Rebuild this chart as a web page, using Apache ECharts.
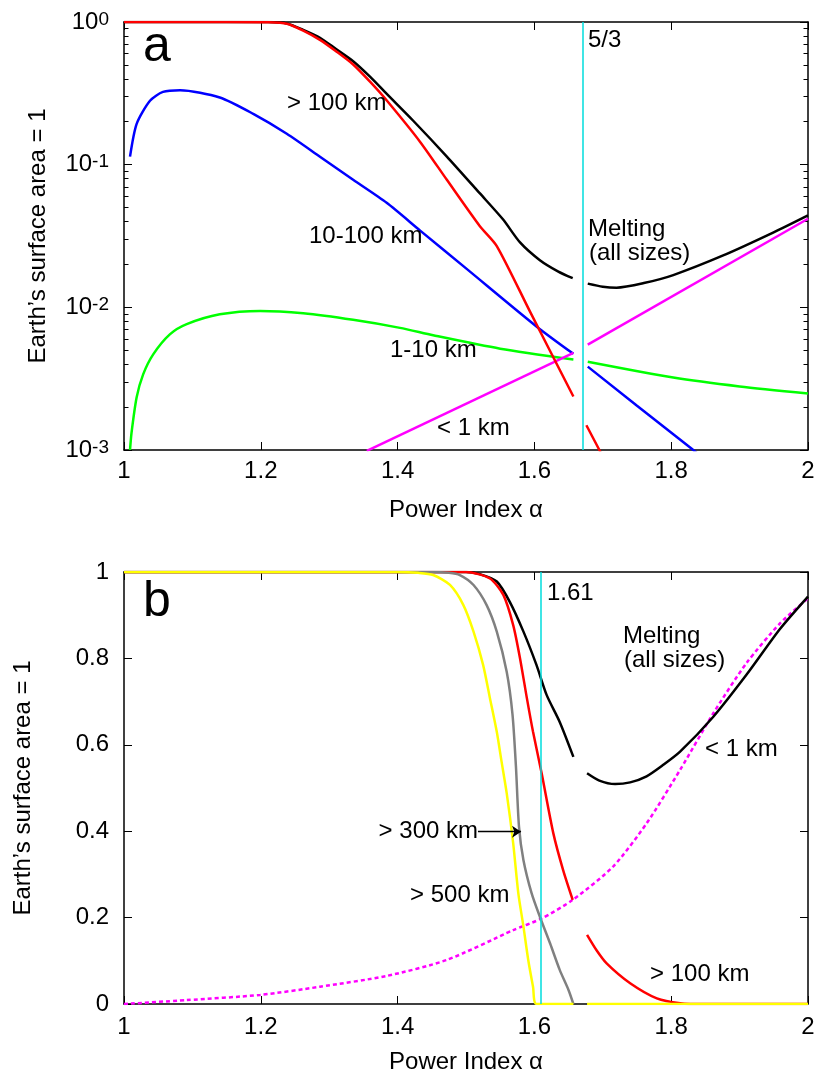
<!DOCTYPE html>
<html><head><meta charset="utf-8">
<script src="https://cdn.jsdelivr.net/npm/echarts@6/dist/echarts.min.js"></script>
<style>html,body{margin:0;padding:0;background:#fff}#c{width:818px;height:1082px}</style>
</head><body><div id="c"></div>
<script>
// ---------- Panel a (log scale) ----------
const aMeltL_x = [1.00, 1.15, 1.21, 1.238, 1.262, 1.2865, 1.31, 1.335, 1.36, 1.3845, 1.4225, 1.472, 1.52, 1.554, 1.579, 1.608, 1.635, 1.656];
const aMeltL_y = [1, 1, 0.998, 0.977, 0.881, 0.776, 0.646, 0.531, 0.412, 0.312, 0.204, 0.114, 0.0631, 0.0414, 0.0285, 0.0214, 0.0178, 0.0160];
const aMeltR_x = [1.678, 1.70, 1.72, 1.76, 1.803, 1.876, 1.949, 2.0];
const aMeltR_y = [0.01466, 0.01396, 0.01374, 0.0148, 0.01683, 0.0231, 0.0334, 0.0441];
const a100L_x = [1.00, 1.15, 1.21, 1.238, 1.262, 1.2865, 1.31, 1.335, 1.36, 1.3845, 1.4327, 1.472, 1.52, 1.545, 1.5936, 1.657];
const a100L_y = [1, 1, 0.995, 0.973, 0.871, 0.750, 0.624, 0.504, 0.380, 0.2805, 0.145, 0.0783, 0.0372, 0.0269, 0.00933, 0.00237];
const a100R_x = [1.676, 1.695, 1.705];
const a100R_y = [0.00149, 0.00100, 0.00079];
const a10L_x = [1.0088, 1.0185, 1.038, 1.057, 1.082, 1.14, 1.189, 1.238, 1.2865, 1.335, 1.384, 1.433, 1.501, 1.603, 1.657];
const a10L_y = [0.1138, 0.1932, 0.2805, 0.3236, 0.3327, 0.2958, 0.227, 0.1648, 0.1138, 0.0783, 0.0540, 0.0345, 0.0186, 0.00735, 0.00472];
const a10R_x = [1.678, 1.75, 1.83, 1.84];
const a10R_y = [0.00384, 0.00204, 0.00102, 0.00093];
const a1L_x = [1.0088, 1.011, 1.0185, 1.028, 1.0427, 1.067, 1.0917, 1.14, 1.199, 1.262, 1.335, 1.4035, 1.452, 1.55, 1.657];
const a1L_y = [0.00100, 0.00132, 0.00234, 0.00339, 0.00468, 0.00646, 0.00762, 0.00893, 0.00944, 0.00908, 0.00817, 0.00718, 0.00637, 0.00513, 0.00431];
const a1R_x = [1.678, 1.803, 1.90, 2.0];
const a1R_y = [0.00416, 0.00322, 0.00279, 0.00249];
const aSmallL_x = [1.355, 1.657];
const aSmallL_y = [0.000986, 0.0048];
const aSmallR_x = [1.678, 2.0];
const aSmallR_y = [0.00548, 0.0418];
const aCritical = 5 / 3;
const aMinorTicks = [0.002,0.003,0.004,0.005,0.006,0.007,0.008,0.009,0.02,0.03,0.04,0.05,0.06,0.07,0.08,0.09,0.2,0.3,0.4,0.5,0.6,0.7,0.8,0.9];

// ---------- Panel b (linear scale) ----------
const bMeltL_x = [1.0, 1.50, 1.52, 1.545, 1.564, 1.584, 1.603, 1.618, 1.637, 1.657];
const bMeltL_y = [1, 1, 0.995, 0.978, 0.931, 0.862, 0.785, 0.715, 0.653, 0.572];
const bMeltR_x = [1.677, 1.695, 1.718, 1.74, 1.764, 1.788, 1.813, 1.8616, 1.91, 1.959, 2.0];
const bMeltR_y = [0.534, 0.517, 0.509, 0.513, 0.527, 0.553, 0.584, 0.665, 0.762, 0.868, 0.943];
const b100L_x = [1.0, 1.50, 1.535, 1.5546, 1.569, 1.579, 1.589, 1.598, 1.6106, 1.6277, 1.642, 1.656];
const b100L_y = [1, 1, 0.985, 0.947, 0.877, 0.80, 0.708, 0.630, 0.534, 0.395, 0.31, 0.241];
const b100R_x = [1.677, 1.6906, 1.7056, 1.74, 1.779, 1.813, 1.85, 2.0];
const b100R_y = [0.16, 0.125, 0.094, 0.048, 0.013, 0.002, 0, 0];
const b300_x = [1.0, 1.45, 1.475, 1.491, 1.511, 1.530, 1.545, 1.5595, 1.568, 1.573, 1.5775, 1.584, 1.596, 1.608, 1.623, 1.637, 1.650, 1.657];
const b300_y = [1, 1, 0.998, 0.993, 0.97, 0.924, 0.862, 0.769, 0.67, 0.55, 0.41, 0.333, 0.256, 0.202, 0.14, 0.079, 0.032, 0];
const b500L_x = [1.0, 1.40, 1.43, 1.452, 1.4766, 1.496, 1.511, 1.525, 1.535, 1.545, 1.552, 1.5595, 1.569, 1.5765, 1.584, 1.591, 1.598, 1.603, 1.657];
const b500L_y = [1, 1, 0.998, 0.993, 0.97, 0.924, 0.862, 0.785, 0.708, 0.630, 0.561, 0.488, 0.372, 0.256, 0.179, 0.102, 0.04, 0, 0];
const b500R_x = [1.677, 2.0];
const b500R_y = [0, 0];
const bSmall_x = [1.0, 1.0917, 1.199, 1.2865, 1.384, 1.472, 1.569, 1.6106, 1.656, 1.715, 1.764, 1.813, 1.8616, 1.91, 1.959, 2.0];
const bSmall_y = [0, 0.009, 0.021, 0.040, 0.065, 0.102, 0.171, 0.198, 0.241, 0.318, 0.418, 0.542, 0.673, 0.789, 0.881, 0.939];
const bCritical = 1.61;
const bArrowFrom = [1.5175, 0.399];
const bArrowTo = [1.5805, 0.399];

const FONT = "'Liberation Sans', Arial, Helvetica, sans-serif";
const zip = (xs, ys) => xs.map((x, i) => [x, ys[i]]);

const chart = echarts.init(document.getElementById('c'), null, {renderer: 'canvas'});

function xAx(grid, pos, labels, margin, name) {
  return {
    type: 'value', gridIndex: grid, position: pos, min: 1, max: 2, interval: 0.2,
    axisLine: {show: true, onZero: false, lineStyle: {color: '#000', width: 1.5}},
    axisTick: {show: true, inside: true, length: 8, lineStyle: {color: '#000', width: 1}},
    axisLabel: {show: labels, margin: margin, fontFamily: FONT, fontSize: 24, color: '#000'},
    splitLine: {show: false},
    name: name || '', nameLocation: 'middle', nameGap: 48,
    nameTextStyle: {fontFamily: FONT, fontSize: 24, color: '#000'}
  };
}
function yLog(pos, labels, minor, name) {
  const o = {
    type: 'log', logBase: 10, gridIndex: 0, position: pos, min: 0.001, max: 1,
    axisLine: {show: !minor, onZero: false, lineStyle: {color: '#000', width: 1.5}},
    axisTick: {show: true, inside: true, length: minor ? 4.5 : 8, lineStyle: {color: '#000', width: 1}},
    axisLabel: {
      show: labels, margin: 15, fontFamily: FONT, color: '#000',
      formatter: v => '{b|10}{s|' + Math.round(Math.log10(v)) + '}',
      rich: {
        b: {fontFamily: FONT, fontSize: 24, lineHeight: 24, padding: [10, 0, 0, 0], verticalAlign: 'bottom', color: '#000'},
        s: {fontFamily: FONT, fontSize: 19, lineHeight: 19, verticalAlign: 'top', color: '#000'}
      }
    },
    splitLine: {show: false},
    name: name || '', nameLocation: 'middle', nameGap: 74,
    nameTextStyle: {fontFamily: FONT, fontSize: 24, color: '#000'}
  };
  if (minor) o.axisTick.customValues = aMinorTicks;
  return o;
}
function yLin(pos, labels, name) {
  return {
    type: 'value', gridIndex: 1, position: pos, min: 0, max: 1, interval: 0.2,
    axisLine: {show: true, onZero: false, lineStyle: {color: '#000', width: 1.5}},
    axisTick: {show: true, inside: true, length: 8, lineStyle: {color: '#000', width: 1}},
    axisLabel: {show: labels, margin: 15, fontFamily: FONT, fontSize: 24, color: '#000'},
    splitLine: {show: false},
    name: name || '', nameLocation: 'middle', nameGap: 89,
    nameTextStyle: {fontFamily: FONT, fontSize: 24, color: '#000'}
  };
}

function ser(xi, yi, data, color, extra) {
  return Object.assign({
    type: 'line', xAxisIndex: xi, yAxisIndex: yi, data: data, showSymbol: false, symbol: 'none',
    smooth: 0.25, clip: true, silent: true,
    lineStyle: {color: color, width: 2.5}
  }, extra || {});
}

const cyan = '#00dcdc';
const series = [
  // panel a
  ser(0, 0, zip(aMeltL_x, aMeltL_y), '#000', {
    markLine: {silent: true, symbol: 'none', label: {show: false}, animation: false,
      lineStyle: {color: cyan, width: 1.5, type: 'solid'}, data: [{xAxis: aCritical}]}
  }),
  ser(0, 0, zip(aMeltR_x, aMeltR_y), '#000'),
  ser(0, 0, zip(a10L_x, a10L_y), '#0000ff'),
  ser(0, 0, zip(a10R_x, a10R_y), '#0000ff', {smooth: false}),
  ser(0, 0, zip(a1L_x, a1L_y), '#00ff00'),
  ser(0, 0, zip(a1R_x, a1R_y), '#00ff00'),
  ser(0, 0, zip(aSmallL_x, aSmallL_y), '#ff00ff', {smooth: false}),
  ser(0, 0, zip(aSmallR_x, aSmallR_y), '#ff00ff', {smooth: false}),
  ser(0, 0, zip(a100L_x, a100L_y), '#ff0000'),
  ser(0, 0, zip(a100R_x, a100R_y), '#ff0000', {smooth: false}),
  // panel b
  ser(2, 4, zip(bSmall_x, bSmall_y), '#ff00ff', {lineStyle: {color: '#ff00ff', width: 2.5, type: [4, 3]},
    markLine: {silent: true, symbol: 'none', label: {show: false}, animation: false,
      lineStyle: {color: cyan, width: 1.5, type: 'solid'}, data: [{xAxis: bCritical}]}
  }),
  ser(2, 4, zip(bMeltL_x, bMeltL_y), '#000'),
  ser(2, 4, zip(bMeltR_x, bMeltR_y), '#000'),
  ser(2, 4, zip(b100L_x, b100L_y), '#ff0000'),
  ser(2, 4, zip(b100R_x, b100R_y), '#ff0000'),
  ser(2, 4, zip(b300_x, b300_y), '#808080', {
    markLine: {silent: true, symbol: ['none', 'arrow'], symbolSize: 9, label: {show: false}, animation: false,
      lineStyle: {color: '#000', width: 1.3, type: 'solid'},
      data: [[{coord: bArrowFrom}, {coord: bArrowTo}]]}
  }),
  ser(2, 4, zip(b500L_x, b500L_y), '#ffff00'),
  ser(2, 4, zip(b500R_x, b500R_y), '#ffff00', {smooth: false})
];

function txt(x, y, s, size, align) {
  return {type: 'text', x: x, y: y, silent: true, z: 100,
    style: {text: s, fontFamily: FONT, fontSize: size || 24, fill: '#000',
      align: align || 'left', verticalAlign: 'middle'}};
}

chart.setOption({
  animation: false,
  backgroundColor: '#fff',
  grid: [
    {left: 124, right: 10, top: 17, height: 433, containLabel: false},
    {left: 124, right: 10, top: 572, height: 432, containLabel: false}
  ],
  xAxis: [
    Object.assign(xAx(0, 'bottom', true, 9, 'Power Index α'), {nameGap: 48}),
    xAx(0, 'top', false, 8),
    Object.assign(xAx(1, 'bottom', true, 11, 'Power Index α'), {nameGap: 46}),
    xAx(1, 'top', false, 8)
  ],
  yAxis: [
    yLog('left', true, false, 'Earth\u2019s surface area = 1'),
    yLog('right', false, false),
    yLog('left', false, true),
    yLog('right', false, true),
    yLin('left', true, 'Earth\u2019s surface area = 1'),
    yLin('right', false)
  ],
  series: series,
  graphic: [
    txt(143, 47.7, 'a', 50),
    txt(287, 103.4, '> 100 km'),
    txt(309, 236.7, '10-100 km'),
    txt(390, 350, '1-10 km'),
    txt(437, 428.4, '< 1 km'),
    txt(588, 40, '5/3'),
    txt(588, 229, 'Melting'),
    txt(589, 253.4, '(all sizes)'),
    txt(143, 602.7, 'b', 50),
    txt(547, 593.4, '1.61'),
    txt(623, 636.7, 'Melting'),
    txt(624, 660, '(all sizes)'),
    txt(705, 749, '< 1 km'),
    txt(478, 831, '> 300 km', 24, 'right'),
    txt(410, 895.7, '> 500 km'),
    txt(650, 974.4, '> 100 km')
  ]
});
</script>
</body></html>
